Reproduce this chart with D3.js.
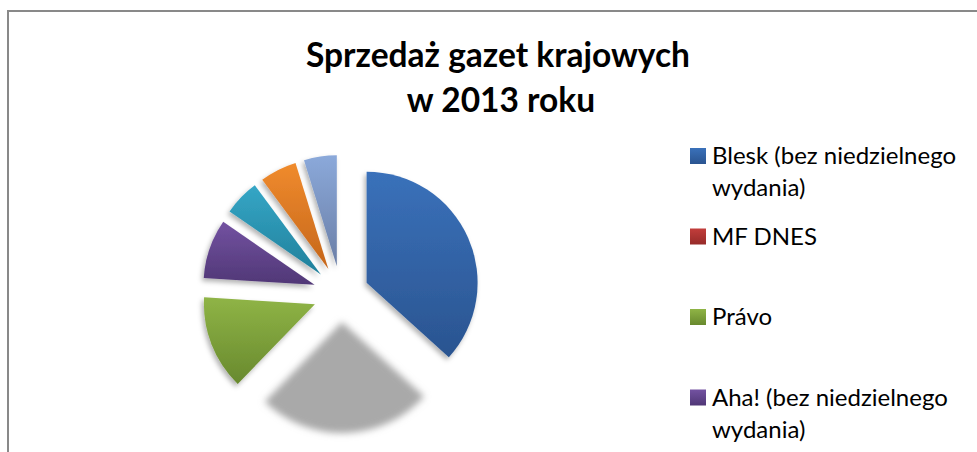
<!DOCTYPE html>
<html lang="pl">
<head>
    <meta charset="UTF-8">
    <title>Sprzedaż gazet krajowych</title>
    <script src="https://d3js.org/d3.v7.min.js"></script>
    <style>
        body { margin: 0; background: #fff; }
        svg { display: block; font-family: Lato, "Open Sans", sans-serif; }
    </style>
</head>
<body>
    <svg width="977" height="452"></svg>
    <script>
        // dane (tys. egz.)
        const names = ['Blesk (bez niedzielnego wydania)', 'MF DNES', 'Právo', 'Aha! (bez niedzielnego wydania)', 'Sport', 'Lidové noviny', 'Hospodářské noviny'];
        const values = [246, 171, 92, 58, 35, 36, 32];
        const topColors = ['#3a71ba', '#c23d3b', '#8fb446', '#7352a1', '#35a6c6', '#f08b2d', '#8ba9da'];
        const bottomColors = ['#2a5490', '#962b29', '#68892e', '#503776', '#21809b', '#c5661b', '#6a7ea6'];
        const ghost = [false, true, false, false, false, false, false];

        const W = 977, H = 452;
        const svg = d3.select('svg');
        const defs = svg.append('defs');

        // ramka
        svg.append('path')
            .attr('d', 'M8,460 L8,11 L990,11')
            .attr('fill', 'none')
            .attr('stroke', '#898989')
            .attr('stroke-width', 2);

        // tytuł
        const title = svg.append('text')
            .attr('text-anchor', 'middle')
            .attr('font-weight', 'bold')
            .attr('font-size', 33.5)
            .attr('fill', '#000');
        title.append('tspan').attr('x', 498).attr('y', 67).text('Sprzedaż gazet krajowych');
        title.append('tspan').attr('x', 501).attr('y', 112).text('w 2013 roku');

        // gradienty
        names.forEach((n, i) => {
            const g = defs.append('linearGradient')
                .attr('id', 'grad' + i)
                .attr('x1', 0).attr('y1', 0).attr('x2', 0).attr('y2', 1);
            g.append('stop').attr('offset', '0%').attr('stop-color', topColors[i]);
            g.append('stop').attr('offset', '100%').attr('stop-color', bottomColors[i]);
        });
        const sh = defs.append('filter').attr('id', 'shadow')
            .attr('x', '-20%').attr('y', '-20%').attr('width', '140%').attr('height', '140%');
        sh.append('feDropShadow').attr('dx', -2).attr('dy', 3).attr('stdDeviation', 2.5)
            .attr('flood-color', '#000').attr('flood-opacity', 0.3);
        defs.append('filter').attr('id', 'blur')
            .attr('x', '-20%').attr('y', '-20%').attr('width', '140%').attr('height', '140%')
            .append('feGaussianBlur').attr('stdDeviation', 3.5);

        // wykres kołowy
        const cx = 341, cy = 294, radius = 111, explode = 28;
        const pie = d3.pie().sort(null).value(d => d);
        const arc = d3.arc().innerRadius(0).outerRadius(radius);
        const arcs = pie(values);

        const pieG = svg.append('g').attr('transform', `translate(${cx},${cy})`);
        pieG.selectAll('path')
            .data(arcs)
            .enter()
            .append('path')
            .attr('d', arc)
            .attr('transform', d => {
                const a = (d.startAngle + d.endAngle) / 2;
                return `translate(${explode * Math.sin(a)},${-explode * Math.cos(a)})`;
            })
            .attr('fill', (d, i) => ghost[i] ? '#a9a9a9' : `url(#grad${i})`)
            .attr('filter', (d, i) => ghost[i] ? 'url(#blur)' : 'url(#shadow)');

        // legenda (pozycje, które mieszczą się w kadrze)
        const legY = d3.scaleLinear().domain([0, 1]).range([156, 236.5]);
        const shown = names.map((n, i) => i).filter(i => legY(i) + 40 < H);
        const item = svg.append('g').selectAll('g')
            .data(shown)
            .enter()
            .append('g')
            .attr('transform', i => `translate(690,${legY(i)})`);
        item.append('rect')
            .attr('x', 0).attr('y', -8)
            .attr('width', 16).attr('height', 16)
            .attr('fill', i => `url(#grad${i})`);
        item.append('text')
            .attr('x', 22)
            .attr('y', 8)
            .attr('font-size', 24)
            .attr('fill', '#000')
            .each(function (i) {
                const t = d3.select(this);
                const d = names[i];
                if (d.length > 20) {
                    const parts = d.split(' ');
                    t.append('tspan').attr('x', 22).text(parts.slice(0, 3).join(' '));
                    t.append('tspan').attr('x', 22).attr('dy', 32).text(parts.slice(3).join(' '));
                } else {
                    t.text(d);
                }
            });
    </script>
</body>
</html>
